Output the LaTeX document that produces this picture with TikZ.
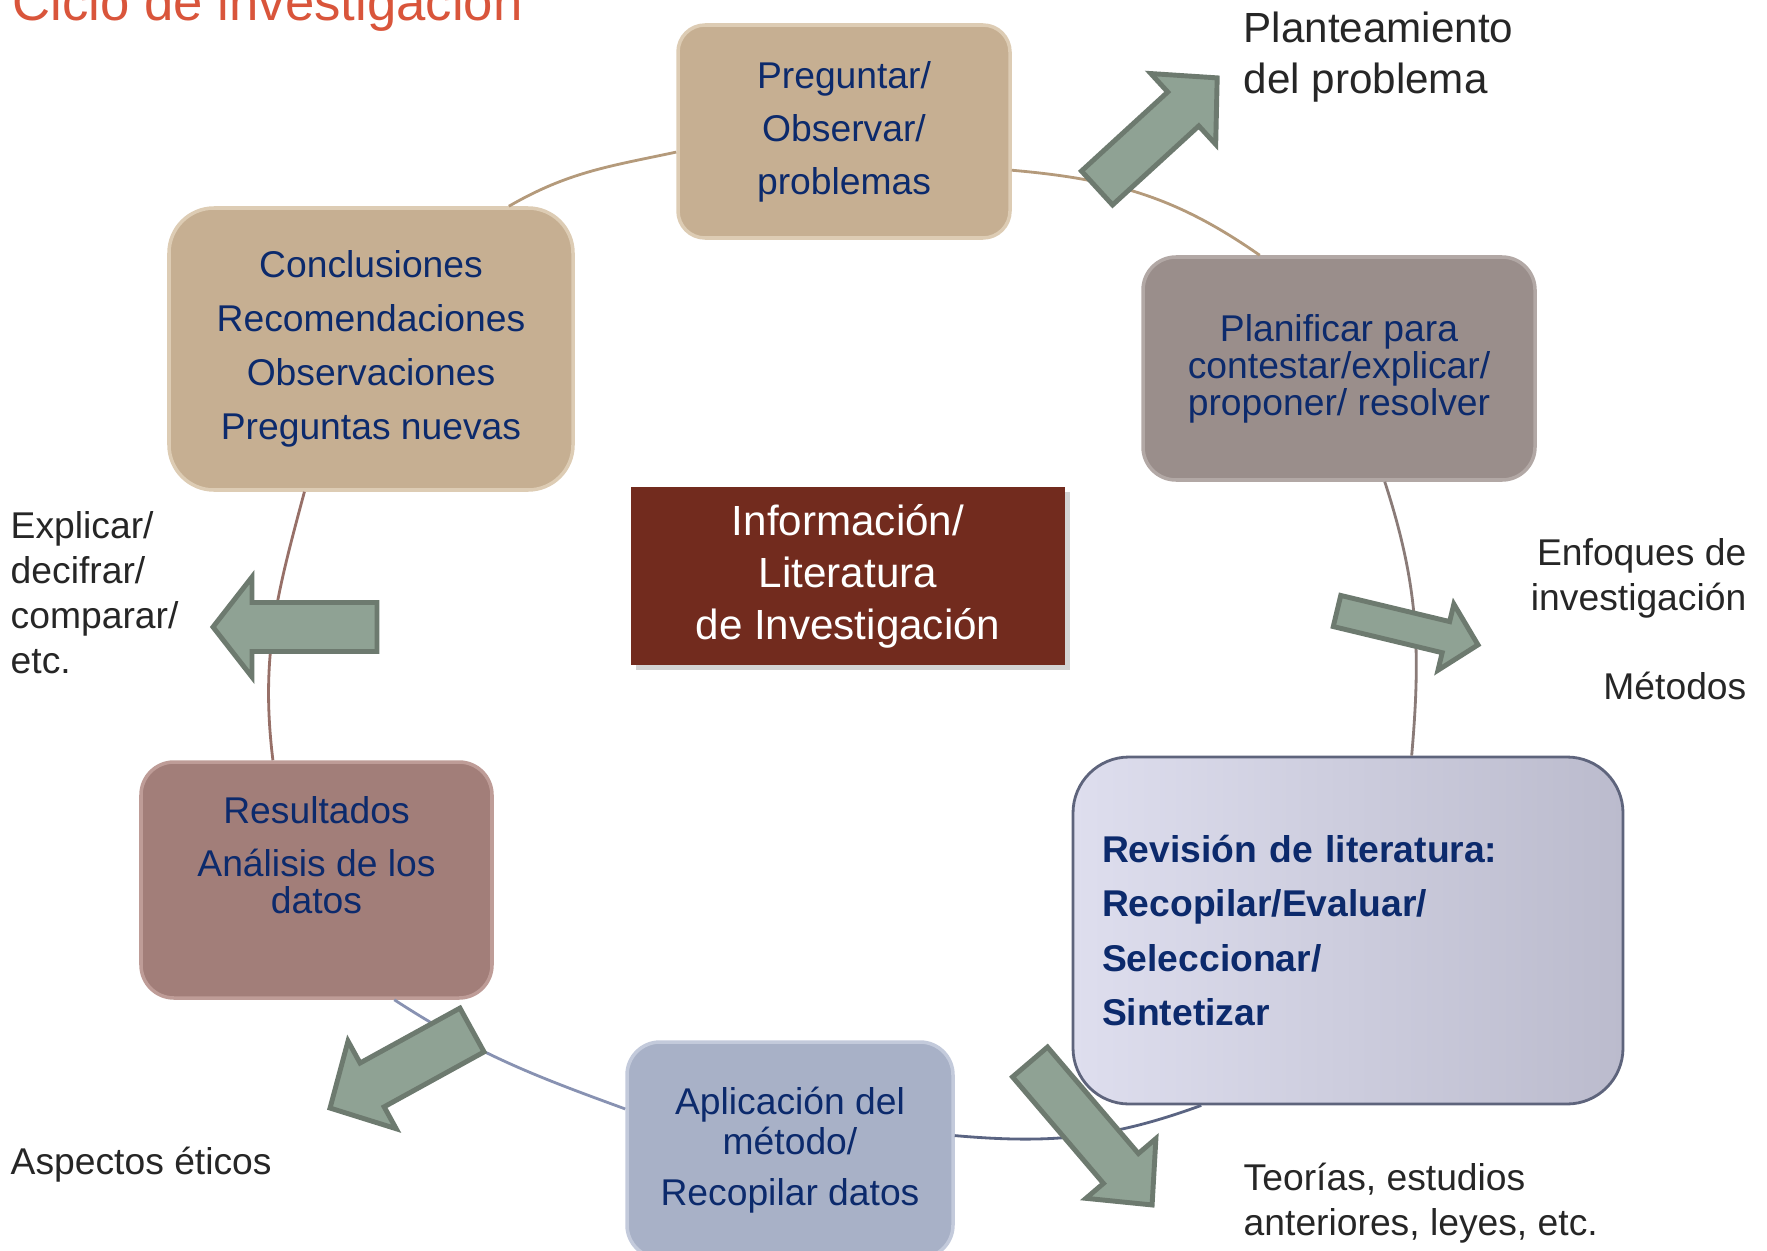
\documentclass[tikz,border=0pt]{standalone}
\usepackage{fontspec}
\setmainfont{Liberation Sans}
\usetikzlibrary{shadows}

\definecolor{navytext}{HTML}{0C2A6C}
\definecolor{labeltext}{HTML}{262626}
\definecolor{titlered}{HTML}{D9553B}
\definecolor{tanfill}{HTML}{C6AF92}
\definecolor{tanedge}{HTML}{DDCCB4}
\definecolor{planfill}{HTML}{9A8E8B}
\definecolor{planedge}{HTML}{B2A8A5}
\definecolor{resfill}{HTML}{A27E79}
\definecolor{resedge}{HTML}{BE9C97}
\definecolor{aplfill}{HTML}{A8B1C7}
\definecolor{apledge}{HTML}{C3CADB}
\definecolor{revlight}{HTML}{DEDEEE}
\definecolor{revdark}{HTML}{BBBBCD}
\definecolor{revedge}{HTML}{5E647C}
\definecolor{infofill}{HTML}{722B1E}
\definecolor{arrfill}{HTML}{8FA294}
\definecolor{arredge}{HTML}{6D7A6F}
\definecolor{tanline}{HTML}{B49A7B}
\definecolor{planline}{HTML}{8A7B78}
\definecolor{revline}{HTML}{5A6482}
\definecolor{aplline}{HTML}{8892B2}
\definecolor{resline}{HTML}{977068}

\begin{document}
\begin{tikzpicture}
    \tikzstyle{stage} = [rectangle, rounded corners=0.33cm, inner sep=0pt, align=center, text=navytext, line width=1pt]
    \tikzstyle{info} = [rectangle, inner sep=0pt, align=center, text=white, fill=infofill, minimum width=4.34cm, minimum height=1.78cm, font=\fontsize{12}{14.8}\selectfont, drop shadow={shadow xshift=0.05cm, shadow yshift=-0.05cm, opacity=0.35}]
    \tikzstyle{side} = [inner sep=0pt, text=labeltext, font=\fontsize{10.6}{12.8}\selectfont]
    \tikzstyle{cyc} = [line width=0.8pt]
    \tikzstyle{bigarrow} = [fill=arrfill, draw=arredge, line width=1.4pt]

    \useasboundingbox (0,0) rectangle (17.67,-12.5);

    \node (title) [anchor=base west, text=titlered, inner sep=0pt, font=\fontsize{15}{18}\selectfont] at (0.12,-0.21) {Ciclo de investigación};

    % ciclo
    \node (preg) [stage, fill=tanfill, draw=tanedge, minimum width=3.32cm, minimum height=2.13cm, rounded corners=0.27cm, font=\fontsize{10.6}{15.1}\selectfont] at (8.44,-1.315) {Preguntar/\\Observar/\\problemas};
    \node (plan) [stage, fill=planfill, draw=planedge, minimum width=3.92cm, minimum height=2.23cm, font=\fontsize{10.6}{10.5}\selectfont] at (13.39,-3.685) {Planificar para\\contestar/explicar/\\proponer/ resolver};
    \node (revis) [stage, left color=revlight, right color=revdark, draw=revedge, line width=0.8pt, rounded corners=0.56cm, minimum width=5.5cm, minimum height=3.47cm, text width=4.92cm, inner xsep=0.29cm, align=left, font=\bfseries\fontsize{10.6}{15.4}\selectfont] at (13.48,-9.305) {Revisión de literatura:\\Recopilar/Evaluar/\\Seleccionar/\\Sintetizar};
    \node (aplic) [stage, fill=aplfill, draw=apledge, minimum width=3.26cm, minimum height=2.16cm, font=\fontsize{10.6}{11.4}\selectfont] at (7.90,-11.50) {Aplicación del\\método/\\[3pt]Recopilar datos};
    \node (result) [stage, fill=resfill, draw=resedge, minimum width=3.51cm, minimum height=2.36cm, font=\fontsize{10.6}{10.5}\selectfont] at (3.165,-8.80) {Resultados\\[4.6pt]Análisis de los\\datos\\[0.13cm]\mbox{}};
    \node (concl) [stage, fill=tanfill, draw=tanedge, minimum width=4.04cm, minimum height=2.82cm, rounded corners=0.45cm, font=\fontsize{10.6}{15.3}\selectfont] at (3.71,-3.49) {Conclusiones\\Recomendaciones\\Observaciones\\Preguntas nuevas};

    \node (infolit) [info] at (8.48,-5.76) {Información/\\Literatura\\de Investigación};

    \draw [cyc, draw=tanline] (concl.46) to[out=30, in=192] (preg.187);
    \draw [cyc, draw=tanline] (preg.-13) to[out=-5, in=145] (plan.125);
    \draw [cyc, draw=planline] (plan.-68) to[out=-72, in=85] (revis.70);
    \draw [cyc, draw=revline] (revis.230) to[out=200, in=-5] (aplic.5);
    \draw [cyc, draw=aplline] (aplic.166) to[out=160, in=-33] (result.-57);
    \draw [cyc, draw=resline] (result.110) to[out=97, in=-105] (concl.245);

    % textos de fuera
    \node (plant) [side, anchor=west, align=left, font=\fontsize{12}{14.5}\selectfont] at (12.43,-0.575) {Planteamiento\\del problema};
    \node (enfoq) [side, anchor=east, align=right] at (17.47,-5.785) {Enfoques de\\investigación};
    \node (metod) [side, anchor=east] at (17.47,-6.86) {Métodos};
    \node (explic) [side, anchor=west, align=left] at (0.10,-5.93) {Explicar/\\decifrar/\\comparar/\\etc.};
    \node (aspect) [side, anchor=west] at (0.10,-11.645) {Aspectos éticos};
    \node (teor) [side, anchor=west, align=left] at (12.43,-12.035) {Teorías, estudios\\anteriores, leyes, etc.};

    % flechas grandes
    \draw [bigarrow, shift={(10.97,-1.88)}, rotate=42.5] (0,-0.23) -- (1.17,-0.23) -- (1.17,-0.48) -- (1.63,0) -- (1.17,0.48) -- (1.17,0.23) -- (0,0.23) -- cycle;
    \draw [bigarrow, shift={(13.37,-6.11)}, rotate=-13.5] (0,-0.16) -- (1.12,-0.16) -- (1.12,-0.34) -- (1.45,0) -- (1.12,0.34) -- (1.12,0.16) -- (0,0.16) -- cycle;
    \draw [bigarrow, shift={(3.77,-6.27)}, rotate=180] (0,-0.245) -- (1.25,-0.245) -- (1.25,-0.50) -- (1.64,0) -- (1.25,0.50) -- (1.25,0.245) -- (0,0.245) -- cycle;
    \draw [bigarrow, shift={(4.72,-10.30)}, rotate=208.8] (0,-0.25) -- (1.14,-0.25) -- (1.14,-0.50) -- (1.62,0) -- (1.14,0.50) -- (1.14,0.25) -- (0,0.25) -- cycle;
    \draw [bigarrow, shift={(10.30,-10.62)}, rotate=-49.5] (0,-0.23) -- (1.40,-0.23) -- (1.40,-0.46) -- (1.88,0) -- (1.40,0.46) -- (1.40,0.23) -- (0,0.23) -- cycle;
\end{tikzpicture}
\end{document}
